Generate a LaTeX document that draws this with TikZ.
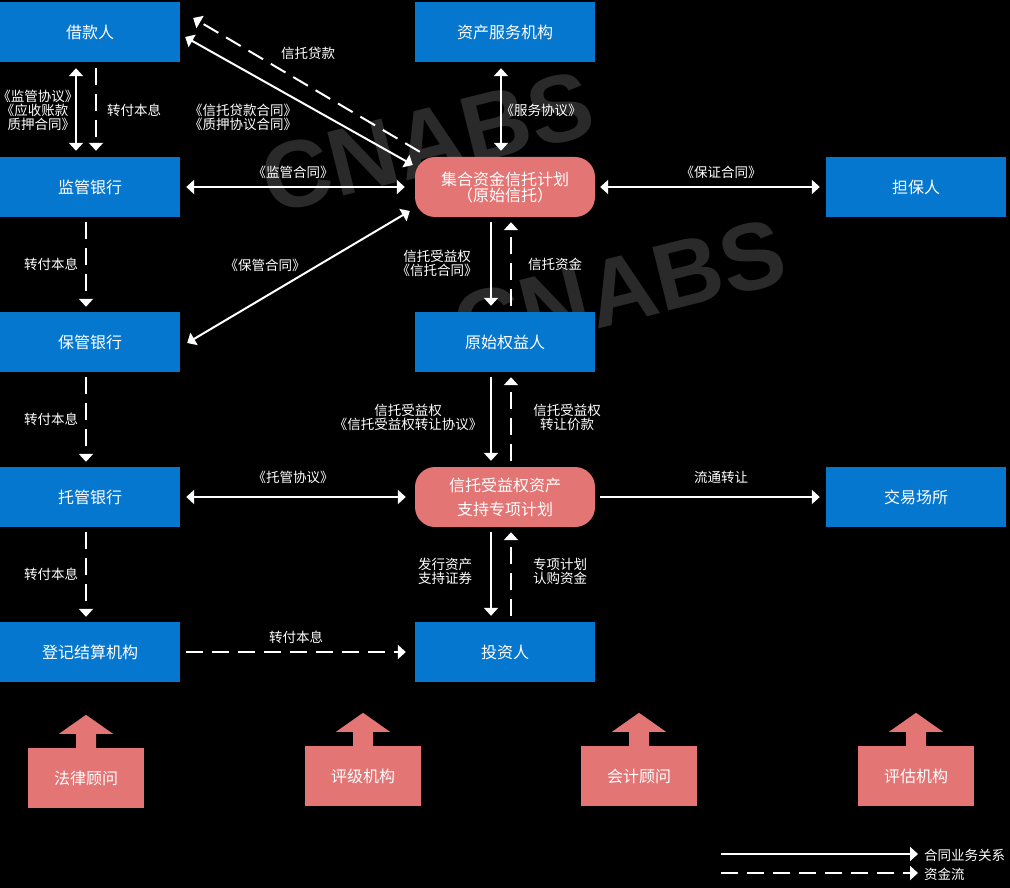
\documentclass[tikz,border=0pt]{standalone}
\usepackage{fontspec}
\setmainfont{Noto Sans CJK SC}[RawFeature=+halt]
\newfontfamily\wmfont{Liberation Sans}
\usetikzlibrary{arrows.meta,calc}
\definecolor{bluebox}{RGB}{6,119,206}
\definecolor{pinkbox}{RGB}{227,117,117}
\definecolor{wmgray}{RGB}{42,42,42}
\newcommand\myUpArrow[1]{%
  \fill[pinkbox] ($(#1.north)+(-10,1)$) -- ($(#1.north)+(-10,-14)$) -- ($(#1.north)+(-27,-14)$) -- ($(#1.north)+(0,-33)$) -- ($(#1.north)+(27,-14)$) -- ($(#1.north)+(10,-14)$) -- ($(#1.north)+(10,1)$) -- cycle;}
\tikzset{
  bluebox/.style={fill=bluebox, minimum width=180pt, minimum height=60pt, inner sep=0pt, text=white, font=\fontsize{16}{18}\selectfont},
  pinkround/.style={fill=pinkbox, rounded corners=20pt, minimum width=180pt, minimum height=60pt, inner sep=0pt, text=white, align=center},
  pinkbox/.style={fill=pinkbox, minimum width=116pt, minimum height=60pt, inner sep=0pt, text=white, font=\fontsize{16}{18}\selectfont},
  lbl/.style={text=white, font=\fontsize{13.5}{14}\selectfont, align=center, inner sep=0pt},
  wmark/.style={text=wmgray, font=\wmfont\bfseries\fontsize{95}{95}\selectfont, inner sep=0pt},
  tip/.tip={Triangle[width=14pt,length=8pt]},
  conn/.style={draw=white, line width=2pt, -tip},
  dbl/.style={draw=white, line width=2pt, tip-tip},
  dsh/.style={draw=white, line width=2pt, -tip, dash pattern=on 17pt off 9pt},
}
\begin{document}
\begin{tikzpicture}[x=1pt,y=-1pt]
\fill[black] (0,0) rectangle (1010,888);
\useasboundingbox (0,0) rectangle (1010,888);
% watermark
\node[wmark, rotate=14] (wm1) at (427,142) {CNABS};
\node[wmark, rotate=14] (wm2) at (619,290) {CNABS};
% left column
\node[bluebox] (jk) at (90,32) {借款人};
\node[bluebox] (jg) at (90,187) {监管银行};
\node[bluebox] (bg) at (90,342) {保管银行};
\node[bluebox] (tg) at (90,497) {托管银行};
\node[bluebox] (dj) at (90,652) {登记结算机构};
% center column
\node[bluebox] (zc) at (505,32) {资产服务机构};
\node[pinkround, font=\fontsize{16}{16}\selectfont] (jh) at (505,187) {集合资金信托计划\\（原始信托）};
\node[bluebox] (ys) at (505,342) {原始权益人};
\node[pinkround, font=\fontsize{16}{24}\selectfont] (zx) at (505,497) {信托受益权资产\\支持专项计划};
\node[bluebox] (tz) at (505,652) {投资人};
% right column
\node[bluebox] (db) at (916,187) {担保人};
\node[bluebox] (jy) at (916,497) {交易场所};
% bottom
\node[pinkbox] (fl) at (86,778) {法律顾问};
\node[pinkbox] (pj) at (363,776) {评级机构};
\node[pinkbox] (kj) at (639,776) {会计顾问};
\node[pinkbox] (pg) at (916,776) {评估机构};
\myUpArrow{fl}
\myUpArrow{pj}
\myUpArrow{kj}
\myUpArrow{pg}
% connectors
\draw[dbl] ($(jk.south)+(-14,6)$) -- ($(jg.north)+(-14,-6)$);
\draw[dsh] ($(jk.south)+(6,6)$) -- ($(jg.north)+(6,-6)$);
\draw[dbl] ($(jk.east)+(5,5)$) -- ($(jh.west)+(-2,-22)$);
\draw[dsh] ($(jh.north west)+(5,-5)$) -- ($(jk.east)+(13,-14)$);
\draw[dbl] ($(jg.east)+(6,0)$) -- ($(jh.west)+(-10,0)$);
\draw[dbl] ($(bg.east)+(7,1)$) -- ($(jh.west)+(-5,24)$);
\draw[dbl] ($(zc.south)+(-4,6)$) -- ($(jh.north)+(-4,-6)$);
\draw[dbl] ($(jh.east)+(5,0)$) -- ($(db.west)+(-6,0)$);
\draw[dsh] ($(jg.south)+(-4,5)$) -- ($(bg.north)+(-4,-5)$);
\draw[dsh] ($(bg.south)+(-4,5)$) -- ($(tg.north)+(-4,-5)$);
\draw[dsh] ($(tg.south)+(-4,5)$) -- ($(dj.north)+(-4,-5)$);
\draw[conn] ($(jh.south)+(-14,5)$) -- ($(ys.north)+(-14,-6)$);
\draw[dsh] ($(ys.north)+(6,-6)$) -- ($(jh.south)+(6,5)$);
\draw[conn] ($(ys.south)+(-14,5)$) -- ($(zx.north)+(-14,-6)$);
\draw[dsh] ($(zx.north)+(6,-6)$) -- ($(ys.south)+(6,5)$);
\draw[dbl] ($(tg.east)+(6,0)$) -- ($(zx.west)+(-9,0)$);
\draw[conn] ($(zx.east)+(5,0)$) -- ($(jy.west)+(-6,0)$);
\draw[conn] ($(zx.south)+(-14,5)$) -- ($(tz.north)+(-14,-6)$);
\draw[dsh] ($(tz.north)+(6,-6)$) -- ($(zx.south)+(6,5)$);
\draw[dsh] ($(dj.east)+(6,0)$) -- ($(tz.west)+(-9,0)$);
% labels
\node[lbl] (l1) at (38,110) {《监管协议》\\《应收账款\\质押合同》};
\node[lbl] (l2) at (134,110) {转付本息};
\node[lbl] (l3) at (308,53) {信托贷款};
\node[lbl] (l4) at (243,117) {《信托贷款合同》\\《质押协议合同》};
\node[lbl] (l5) at (293,172) {《监管合同》};
\node[lbl] (l6) at (265,265) {《保管合同》};
\node[lbl] (l7) at (541,110) {《服务协议》};
\node[lbl] (l8) at (721,172) {《保证合同》};
\node[lbl] (l9) at (437,263) {信托受益权\\《信托合同》};
\node[lbl] (l10) at (555,264) {信托资金};
\node[lbl] (l11) at (51,264) {转付本息};
\node[lbl] (l12) at (51,419) {转付本息};
\node[lbl] (l13) at (51,574) {转付本息};
\node[lbl] (l14) at (408,417) {信托受益权\\《信托受益权转让协议》};
\node[lbl] (l15) at (567,417) {信托受益权\\转让价款};
\node[lbl] (l16) at (293,477) {《托管协议》};
\node[lbl] (l17) at (721,477) {流通转让};
\node[lbl] (l18) at (445,571) {发行资产\\支持证券};
\node[lbl] (l19) at (560,571) {专项计划\\认购资金};
\node[lbl] (l20) at (296,637) {转付本息};
% legend
\coordinate (lga) at (721,854);
\coordinate (lgb) at (918,854);
\coordinate (lgc) at (721,873);
\coordinate (lgd) at (918,873);
\draw[conn] (lga) -- (lgb);
\draw[dsh] (lgc) -- (lgd);
\node[lbl, anchor=west] (lg1) at (924,855) {合同业务关系};
\node[lbl, anchor=west] (lg2) at (924,874) {资金流};
\end{tikzpicture}
\end{document}
